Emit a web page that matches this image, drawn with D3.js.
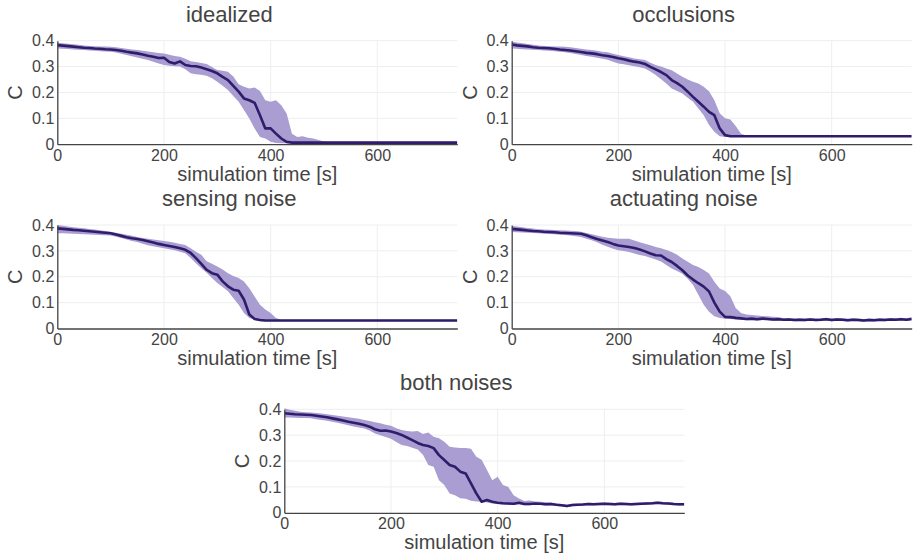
<!DOCTYPE html>
<html lang="en">
<head>
  <meta charset="UTF-8">
  <title>C over simulation time</title>
  <style>
    body {
      margin: 0;
      background: #fff;
      font-family: "Liberation Sans", Arial, sans-serif;
    }
    svg text {
      fill: #444;
    }
  </style>
</head>
<body>
  <div id="chart"></div>

  <script src="https://d3js.org/d3.v7.min.js"></script>
  <script>
    // sample times [s], shared by every panel
    const times = [
      0, 10, 20, 30, 40, 50, 60, 70, 80, 90,
      100, 110, 120, 130, 140, 150, 160, 170, 180, 190,
      200, 210, 220, 230, 240, 250, 260, 270, 280, 290,
      300, 310, 320, 330, 340, 350, 360, 370, 380, 390,
      400, 410, 420, 430, 440, 450, 460, 470, 480, 490,
      500, 510, 520, 530, 540, 550, 560, 570, 580, 590,
      600, 610, 620, 630, 640, 650, 660, 670, 680, 690,
      700, 710, 720, 730, 740, 750
    ];

    const panelTitles = ["idealized", "occlusions", "sensing noise", "actuating noise", "both noises"];

    // idealized
    const idealMean = [
      0.383, 0.381, 0.379, 0.377, 0.375, 0.373, 0.372, 0.370, 0.369, 0.367,
      0.366, 0.364, 0.361, 0.357, 0.354, 0.351, 0.347, 0.342, 0.338, 0.333,
      0.334, 0.318, 0.312, 0.320, 0.306, 0.302, 0.301, 0.296, 0.290, 0.283,
      0.274, 0.260, 0.248, 0.225, 0.203, 0.177, 0.170, 0.160, 0.112, 0.061,
      0.061, 0.041, 0.022, 0.009, 0.006, 0.006, 0.006, 0.006, 0.006, 0.006,
      0.006, 0.006, 0.006, 0.006, 0.006, 0.006, 0.006, 0.006, 0.006, 0.006,
      0.006, 0.006, 0.006, 0.006, 0.006, 0.006, 0.006, 0.006, 0.006, 0.006,
      0.006, 0.006, 0.006, 0.006, 0.006, 0.006
    ];
    const idealHi = [
      0.392, 0.390, 0.388, 0.386, 0.384, 0.381, 0.380, 0.379, 0.378, 0.378,
      0.377, 0.375, 0.372, 0.369, 0.366, 0.364, 0.361, 0.358, 0.355, 0.352,
      0.351, 0.346, 0.341, 0.338, 0.330, 0.321, 0.318, 0.314, 0.310, 0.298,
      0.287, 0.284, 0.280, 0.262, 0.232, 0.222, 0.215, 0.219, 0.206, 0.170,
      0.164, 0.170, 0.151, 0.119, 0.040, 0.028, 0.031, 0.025, 0.022, 0.016,
      0.010, 0.009, 0.009, 0.009, 0.009, 0.009, 0.009, 0.009, 0.009, 0.009,
      0.009, 0.009, 0.009, 0.009, 0.009, 0.009, 0.009, 0.009, 0.009, 0.009,
      0.009, 0.009, 0.009, 0.009, 0.009, 0.009
    ];
    const idealLo = [
      0.370, 0.369, 0.368, 0.366, 0.365, 0.364, 0.362, 0.361, 0.359, 0.358,
      0.357, 0.354, 0.350, 0.345, 0.340, 0.335, 0.330, 0.325, 0.319, 0.312,
      0.306, 0.303, 0.301, 0.300, 0.290, 0.274, 0.270, 0.268, 0.265, 0.255,
      0.241, 0.226, 0.209, 0.186, 0.164, 0.132, 0.099, 0.061, 0.028, 0.022,
      0.009, 0.005, 0.004, 0.004, 0.004, 0.004, 0.004, 0.004, 0.004, 0.004,
      0.004, 0.004, 0.004, 0.004, 0.004, 0.004, 0.004, 0.004, 0.004, 0.004,
      0.004, 0.004, 0.004, 0.004, 0.004, 0.004, 0.004, 0.004, 0.004, 0.004,
      0.004, 0.004, 0.004, 0.004, 0.004, 0.004
    ];

    // occlusions
    const occMean = [
      0.385, 0.382, 0.380, 0.378, 0.375, 0.373, 0.372, 0.371, 0.369, 0.366,
      0.364, 0.362, 0.359, 0.356, 0.353, 0.351, 0.348, 0.344, 0.341, 0.337,
      0.332, 0.328, 0.323, 0.319, 0.316, 0.310, 0.299, 0.289, 0.279, 0.267,
      0.248, 0.236, 0.222, 0.203, 0.183, 0.164, 0.145, 0.125, 0.112, 0.061,
      0.035, 0.031, 0.031, 0.031, 0.031, 0.031, 0.031, 0.031, 0.031, 0.031,
      0.031, 0.031, 0.031, 0.031, 0.031, 0.031, 0.031, 0.031, 0.031, 0.031,
      0.031, 0.031, 0.031, 0.031, 0.031, 0.031, 0.031, 0.031, 0.031, 0.031,
      0.031, 0.031, 0.031, 0.031, 0.031, 0.031
    ];
    const occHi = [
      0.396, 0.393, 0.390, 0.387, 0.384, 0.381, 0.380, 0.379, 0.378, 0.378,
      0.377, 0.375, 0.372, 0.369, 0.366, 0.364, 0.361, 0.357, 0.355, 0.350,
      0.345, 0.340, 0.336, 0.331, 0.328, 0.325, 0.315, 0.306, 0.300, 0.293,
      0.286, 0.273, 0.261, 0.250, 0.241, 0.235, 0.222, 0.205, 0.170, 0.120,
      0.100, 0.095, 0.070, 0.040, 0.034, 0.034, 0.034, 0.034, 0.034, 0.034,
      0.034, 0.034, 0.034, 0.034, 0.034, 0.034, 0.034, 0.034, 0.034, 0.034,
      0.034, 0.034, 0.034, 0.034, 0.034, 0.034, 0.034, 0.034, 0.034, 0.034,
      0.034, 0.034, 0.034, 0.034, 0.034, 0.034
    ];
    const occLo = [
      0.370, 0.369, 0.367, 0.366, 0.365, 0.364, 0.362, 0.361, 0.359, 0.357,
      0.355, 0.352, 0.349, 0.345, 0.341, 0.338, 0.334, 0.330, 0.326, 0.319,
      0.312, 0.309, 0.305, 0.301, 0.297, 0.293, 0.281, 0.267, 0.251, 0.235,
      0.215, 0.206, 0.196, 0.180, 0.164, 0.138, 0.112, 0.074, 0.048, 0.031,
      0.028, 0.028, 0.028, 0.028, 0.028, 0.028, 0.028, 0.028, 0.028, 0.028,
      0.028, 0.028, 0.028, 0.028, 0.028, 0.028, 0.028, 0.028, 0.028, 0.028,
      0.028, 0.028, 0.028, 0.028, 0.028, 0.028, 0.028, 0.028, 0.028, 0.028,
      0.028, 0.028, 0.028, 0.028, 0.028, 0.028
    ];

    // sensing noise
    const senseMean = [
      0.387, 0.385, 0.383, 0.381, 0.380, 0.378, 0.376, 0.374, 0.372, 0.370,
      0.368, 0.363, 0.358, 0.353, 0.349, 0.346, 0.342, 0.337, 0.332, 0.327,
      0.323, 0.319, 0.315, 0.310, 0.304, 0.292, 0.272, 0.250, 0.227, 0.214,
      0.208, 0.182, 0.163, 0.150, 0.146, 0.112, 0.054, 0.037, 0.033, 0.031,
      0.031, 0.031, 0.031, 0.031, 0.031, 0.031, 0.031, 0.031, 0.031, 0.031,
      0.031, 0.031, 0.031, 0.031, 0.031, 0.031, 0.031, 0.031, 0.031, 0.031,
      0.031, 0.031, 0.031, 0.031, 0.031, 0.031, 0.031, 0.031, 0.031, 0.031,
      0.031, 0.031, 0.031, 0.031, 0.031, 0.031
    ];
    const senseHi = [
      0.400, 0.397, 0.394, 0.391, 0.389, 0.387, 0.385, 0.383, 0.380, 0.377,
      0.374, 0.370, 0.366, 0.362, 0.358, 0.354, 0.350, 0.347, 0.344, 0.341,
      0.338, 0.335, 0.331, 0.327, 0.323, 0.310, 0.297, 0.285, 0.260, 0.250,
      0.240, 0.228, 0.214, 0.203, 0.195, 0.182, 0.156, 0.124, 0.092, 0.073,
      0.060, 0.041, 0.034, 0.034, 0.034, 0.034, 0.034, 0.034, 0.034, 0.034,
      0.034, 0.034, 0.034, 0.034, 0.034, 0.034, 0.034, 0.034, 0.034, 0.034,
      0.034, 0.034, 0.034, 0.034, 0.034, 0.034, 0.034, 0.034, 0.034, 0.034,
      0.034, 0.034, 0.034, 0.034, 0.034, 0.034
    ];
    const senseLo = [
      0.368, 0.368, 0.367, 0.366, 0.365, 0.364, 0.363, 0.362, 0.361, 0.360,
      0.359, 0.355, 0.350, 0.344, 0.338, 0.334, 0.328, 0.322, 0.318, 0.314,
      0.310, 0.306, 0.302, 0.297, 0.291, 0.272, 0.252, 0.233, 0.215, 0.195,
      0.176, 0.160, 0.144, 0.118, 0.092, 0.060, 0.041, 0.035, 0.028, 0.028,
      0.028, 0.028, 0.028, 0.028, 0.028, 0.028, 0.028, 0.028, 0.028, 0.028,
      0.028, 0.028, 0.028, 0.028, 0.028, 0.028, 0.028, 0.028, 0.028, 0.028,
      0.028, 0.028, 0.028, 0.028, 0.028, 0.028, 0.028, 0.028, 0.028, 0.028,
      0.028, 0.028, 0.028, 0.028, 0.028, 0.028
    ];

    // actuating noise
    const actMean = [
      0.385, 0.383, 0.381, 0.379, 0.377, 0.376, 0.374, 0.373, 0.372, 0.370,
      0.369, 0.368, 0.367, 0.366, 0.360, 0.353, 0.346, 0.340, 0.334, 0.327,
      0.321, 0.318, 0.315, 0.311, 0.305, 0.298, 0.290, 0.283, 0.282, 0.268,
      0.257, 0.242, 0.225, 0.205, 0.189, 0.175, 0.162, 0.143, 0.100, 0.065,
      0.045, 0.044, 0.041, 0.039, 0.037, 0.038, 0.036, 0.038, 0.037, 0.035,
      0.036, 0.034, 0.035, 0.033, 0.034, 0.033, 0.035, 0.033, 0.034, 0.036,
      0.033, 0.035, 0.034, 0.032, 0.034, 0.033, 0.031, 0.033, 0.032, 0.034,
      0.033, 0.035, 0.034, 0.036, 0.034, 0.037
    ];
    const actHi = [
      0.396, 0.394, 0.391, 0.388, 0.386, 0.384, 0.383, 0.382, 0.381, 0.380,
      0.379, 0.378, 0.377, 0.374, 0.369, 0.364, 0.359, 0.355, 0.351, 0.349,
      0.347, 0.347, 0.347, 0.340, 0.333, 0.328, 0.322, 0.315, 0.310, 0.303,
      0.296, 0.285, 0.271, 0.258, 0.245, 0.238, 0.226, 0.213, 0.181, 0.155,
      0.145, 0.125, 0.079, 0.060, 0.054, 0.052, 0.050, 0.048, 0.047, 0.045,
      0.044, 0.040, 0.041, 0.039, 0.040, 0.039, 0.041, 0.039, 0.040, 0.042,
      0.039, 0.041, 0.040, 0.038, 0.040, 0.039, 0.037, 0.039, 0.038, 0.040,
      0.039, 0.041, 0.040, 0.042, 0.040, 0.043
    ];
    const actLo = [
      0.373, 0.372, 0.371, 0.370, 0.369, 0.368, 0.366, 0.365, 0.364, 0.362,
      0.361, 0.359, 0.357, 0.354, 0.347, 0.341, 0.333, 0.324, 0.316, 0.308,
      0.302, 0.300, 0.296, 0.290, 0.284, 0.280, 0.273, 0.267, 0.259, 0.245,
      0.232, 0.222, 0.212, 0.192, 0.168, 0.130, 0.092, 0.065, 0.047, 0.041,
      0.038, 0.037, 0.035, 0.034, 0.032, 0.033, 0.031, 0.033, 0.032, 0.030,
      0.031, 0.029, 0.030, 0.028, 0.029, 0.028, 0.030, 0.028, 0.029, 0.031,
      0.028, 0.030, 0.029, 0.027, 0.029, 0.028, 0.026, 0.028, 0.027, 0.029,
      0.028, 0.030, 0.029, 0.031, 0.029, 0.032
    ];

    // both noises
    const bothMean = [
      0.385, 0.383, 0.381, 0.380, 0.379, 0.378, 0.375, 0.372, 0.369, 0.365,
      0.361, 0.357, 0.352, 0.348, 0.344, 0.339, 0.333, 0.323, 0.317, 0.318,
      0.314, 0.308, 0.301, 0.291, 0.281, 0.270, 0.262, 0.258, 0.250, 0.223,
      0.204, 0.185, 0.178, 0.159, 0.152, 0.114, 0.075, 0.043, 0.049, 0.043,
      0.039, 0.037, 0.036, 0.035, 0.039, 0.034, 0.034, 0.036, 0.035, 0.033,
      0.034, 0.031, 0.029, 0.026, 0.030, 0.031, 0.032, 0.034, 0.033, 0.034,
      0.035, 0.034, 0.033, 0.035, 0.034, 0.033, 0.034, 0.035, 0.036, 0.037,
      0.039, 0.037, 0.036, 0.034, 0.033, 0.033
    ];
    const bothHi = [
      0.404, 0.398, 0.394, 0.391, 0.389, 0.388, 0.386, 0.384, 0.381, 0.378,
      0.375, 0.372, 0.369, 0.366, 0.363, 0.359, 0.355, 0.350, 0.346, 0.340,
      0.336, 0.327, 0.320, 0.316, 0.314, 0.316, 0.305, 0.310, 0.294, 0.288,
      0.275, 0.255, 0.252, 0.250, 0.250, 0.248, 0.217, 0.205, 0.165, 0.126,
      0.139, 0.107, 0.100, 0.068, 0.055, 0.046, 0.048, 0.044, 0.043, 0.041,
      0.040, 0.036, 0.034, 0.031, 0.035, 0.036, 0.037, 0.039, 0.038, 0.039,
      0.040, 0.039, 0.038, 0.040, 0.039, 0.038, 0.039, 0.040, 0.041, 0.042,
      0.044, 0.042, 0.041, 0.039, 0.038, 0.038
    ];
    const bothLo = [
      0.368, 0.368, 0.367, 0.366, 0.366, 0.365, 0.362, 0.359, 0.356, 0.352,
      0.348, 0.343, 0.338, 0.334, 0.330, 0.326, 0.318, 0.306, 0.300, 0.293,
      0.286, 0.274, 0.262, 0.258, 0.251, 0.245, 0.224, 0.185, 0.178, 0.126,
      0.107, 0.075, 0.068, 0.056, 0.054, 0.047, 0.044, 0.043, 0.040, 0.036,
      0.034, 0.032, 0.031, 0.030, 0.033, 0.029, 0.029, 0.031, 0.030, 0.028,
      0.029, 0.026, 0.024, 0.021, 0.025, 0.026, 0.027, 0.029, 0.028, 0.029,
      0.030, 0.029, 0.028, 0.030, 0.029, 0.028, 0.029, 0.030, 0.031, 0.032,
      0.034, 0.032, 0.031, 0.029, 0.028, 0.028
    ];

    const xTicks = [0, 200, 400, 600];
    const yTicks = [0, 0.1, 0.2, 0.3, 0.4];
    const yTickLabels = ["0", "0.1", "0.2", "0.3", "0.4"];

    const series = [
      { mean: idealMean, hi: idealHi, lo: idealLo },
      { mean: occMean, hi: occHi, lo: occLo },
      { mean: senseMean, hi: senseHi, lo: senseLo },
      { mean: actMean, hi: actHi, lo: actLo },
      { mean: bothMean, hi: bothHi, lo: bothLo }
    ];

    // panel placement (plot-area top-left corners)
    const panelPos = [
      { left: 57.3, top: 40.7 },
      { left: 511.7, top: 40.7 },
      { left: 57.3, top: 225 },
      { left: 511.7, top: 225 },
      { left: 284.3, top: 409.3 }
    ];
    const plotW = 400, plotH = 103.5;

    const svg = d3.select("#chart")
      .append("svg")
      .attr("width", 915)
      .attr("height", 557);

    const xScale = d3.scaleLinear().domain([0, 750]).range([0, plotW]);
    const yScale = d3.scaleLinear().domain([0, 0.4]).range([plotH, 0]);

    const area = d3.area()
      .x(d => xScale(d.t))
      .y0(d => yScale(d.lo))
      .y1(d => yScale(d.hi));

    const line = d3.line()
      .x(d => xScale(d.t))
      .y(d => yScale(d.mean));

    series.forEach((s, i) => {
      const pos = panelPos[i];
      const rows = times.map((t, k) => ({ t: t, mean: s.mean[k], hi: s.hi[k], lo: s.lo[k] }));

      const g = svg.append("g")
        .attr("transform", `translate(${pos.left},${pos.top})`);

      // clip
      g.append("clipPath")
        .attr("id", "clip" + i)
        .append("rect")
        .attr("x", 0).attr("y", -2)
        .attr("width", plotW).attr("height", plotH + 2);

      // grid
      g.append("g")
        .selectAll("line")
        .data(xTicks.filter(d => d > 0))
        .enter().append("line")
        .attr("x1", d => xScale(d)).attr("x2", d => xScale(d))
        .attr("y1", 0).attr("y2", plotH)
        .attr("stroke", "#eee").attr("stroke-width", 1);

      g.append("g")
        .selectAll("line")
        .data(yTicks.filter(d => d > 0))
        .enter().append("line")
        .attr("x1", 0).attr("x2", plotW)
        .attr("y1", d => yScale(d)).attr("y2", d => yScale(d))
        .attr("stroke", "#eee").attr("stroke-width", 1);

      const plot = g.append("g").attr("clip-path", `url(#clip${i})`);

      plot.append("path")
        .datum(rows)
        .attr("d", area)
        .attr("fill", "#a99dd2")
        .attr("stroke", "none");

      plot.append("path")
        .datum(rows)
        .attr("d", line)
        .attr("fill", "none")
        .attr("stroke", "#2f1d6c")
        .attr("stroke-width", 2.6)
        .attr("stroke-linejoin", "round");

      // x axis
      const xAxis = g.append("g")
        .attr("transform", `translate(0,${plotH})`)
        .call(d3.axisBottom(xScale).tickValues(xTicks).tickSize(0).tickPadding(5));
      xAxis.select(".domain").attr("stroke", "#444").attr("stroke-width", 1.3);
      xAxis.selectAll("text")
        .attr("font-family", "'Liberation Sans', Arial, sans-serif")
        .style("font-size", "16px")
        .style("fill", "#444");

      // y axis
      const yAxis = g.append("g")
        .call(d3.axisLeft(yScale).tickValues(yTicks)
          .tickFormat((d, k) => yTickLabels[k])
          .tickSize(0).tickPadding(3));
      yAxis.select(".domain").attr("stroke", "#444").attr("stroke-width", 1.3);
      yAxis.selectAll("text")
        .attr("font-family", "'Liberation Sans', Arial, sans-serif")
        .style("font-size", "16px")
        .style("fill", "#444");

      // axis titles
      g.append("text")
        .attr("x", plotW / 2)
        .attr("y", plotH + 36.5)
        .attr("text-anchor", "middle")
        .style("font-size", "20px")
        .text("simulation time [s]");

      g.append("text")
        .attr("transform", `translate(-42,${plotH / 2}) rotate(-90)`)
        .attr("text-anchor", "middle")
        .attr("dy", "0.35em")
        .style("font-size", "20px")
        .text("C");

      // panel title
      g.append("text")
        .attr("x", plotW / 2 - 28)
        .attr("y", -19)
        .attr("text-anchor", "middle")
        .style("font-size", "22px")
        .text(panelTitles[i]);
    });
  </script>
</body>
</html>
